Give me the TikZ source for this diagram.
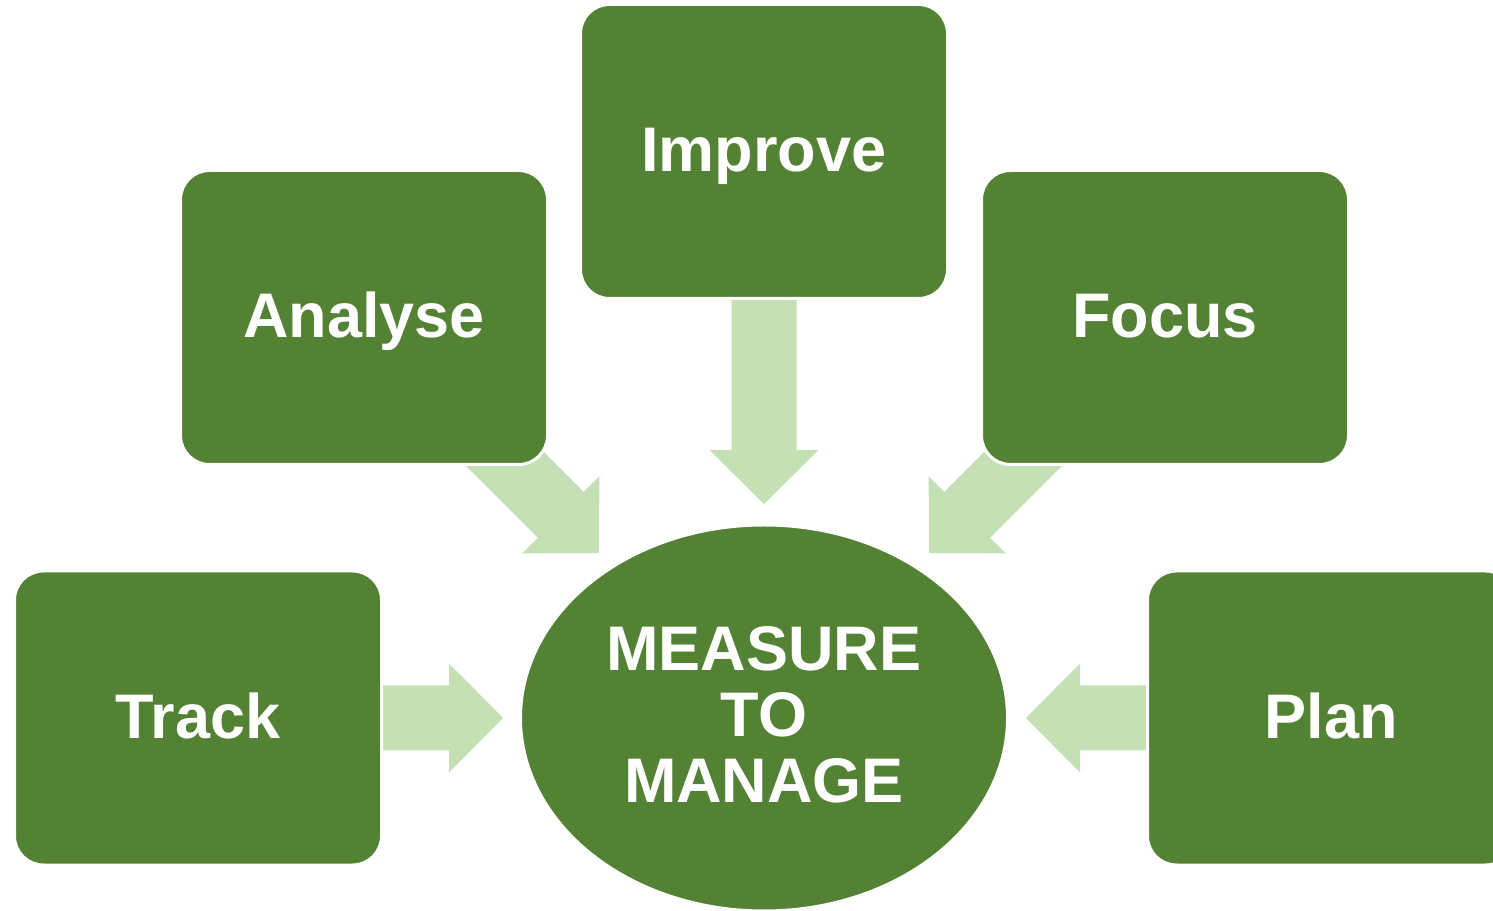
\documentclass[tikz,border=0pt]{standalone}
\usepackage{fontspec}
\setmainfont{Liberation Sans}
\usetikzlibrary{shapes.geometric}
\definecolor{boxgreen}{HTML}{548235}
\definecolor{arrowgreen}{HTML}{C5E0B4}
% block arrow: tip coordinate, direction angle, total length
\newcommand{\blockarrow}[3]{%
  \begin{scope}[shift={(#1)},rotate=#2]
    \fill[arrowgreen] (0,0) -- (-54,54.5) -- (-54,32.5) -- (-#3,32.5)
      -- (-#3,-32.5) -- (-54,-32.5) -- (-54,-54.5) -- cycle;
  \end{scope}}
\begin{document}
\begin{tikzpicture}[x=1pt,y=1pt,
  lbl/.style={text=white, font=\fontsize{63}{66}\selectfont\bfseries},
  box/.style={lbl, draw=white, line width=3pt, fill=boxgreen,
    rounded corners=29pt, minimum width=367pt, minimum height=294pt,
    inner sep=0pt, text height=41pt, text depth=0pt},
  hub/.style={lbl, ellipse, draw=white, line width=3pt, fill=boxgreen,
    minimum width=487pt, minimum height=386pt, inner sep=0pt, align=center,
    text depth=6pt}]
\useasboundingbox (0,0) rectangle (1493,910);
\clip (0,0) rectangle (1493,910);
% arrow tips
\coordinate (tdown) at (764,406);
\coordinate (ttrack) at (503,192);
\coordinate (tplan) at (1026,192);
\coordinate (tana) at (599,357);
\coordinate (tfoc) at (929,357);
\blockarrow{tdown}{-90}{206}
\blockarrow{ttrack}{0}{120}
\blockarrow{tplan}{180}{120}
\blockarrow{tana}{-45}{160}
\blockarrow{tfoc}{-135}{160}
% boxes
\node[box] (improve) at (764,758.5) {Improve};
\node[box] (analyse) at (364,592.5) {Analyse};
\node[box] (focus) at (1165,592.5) {Focus};
\node[box] (track) at (198,192) {Track};
\node[box] (plan) at (1331,192) {Plan};
% hub
\node[hub] (hub) at (764,192) {MEASURE\\TO\\MANAGE};
\end{tikzpicture}
\end{document}
